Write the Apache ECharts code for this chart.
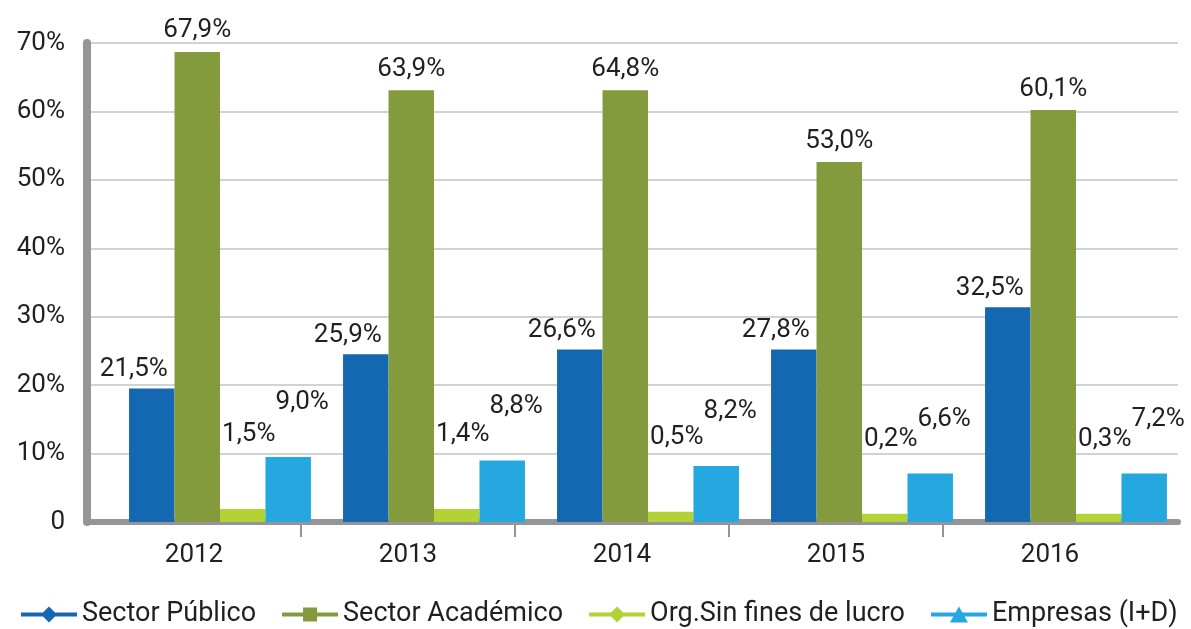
<!DOCTYPE html>
<html>
<head>
<meta charset="utf-8">
<script src="https://cdn.jsdelivr.net/npm/echarts@6/dist/echarts.min.js"></script>
<style>
  html, body { margin: 0; padding: 0; background: #fff; }
  #chart { width: 1191px; height: 629px; }
</style>
</head>
<body>
<div id="chart"></div>
<script>
const years = ['2012', '2013', '2014', '2015', '2016'];
const yTicks = [0, 10, 20, 30, 40, 50, 60, 70];
const seriesNames = ['Sector Público', 'Sector Académico', 'Org.Sin fines de lucro', 'Empresas (I+D)'];

// bar heights as drawn (%)
const sectorPublico = [19.5, 24.5, 25.2, 25.2, 31.4];
const sectorAcademico = [68.7, 63.1, 63.1, 52.6, 60.2];
const sinFines = [1.9, 1.9, 1.5, 1.2, 1.2];
const empresas = [9.5, 9.0, 8.2, 7.1, 7.1];

// values printed over the bars (%)
const publicoLabels = [21.5, 25.9, 26.6, 27.8, 32.5];
const academicoLabels = [67.9, 63.9, 64.8, 53.0, 60.1];
const sinFinesLabels = [1.5, 1.4, 0.5, 0.2, 0.3];
const empresasLabels = [9.0, 8.8, 8.2, 6.6, 7.2];

const FONT = 'Roboto';
const TEXT = '#231f20';
const AXIS_GREY = '#939598';

function pct (v) {
  return v.toFixed(1).replace('.', ',') + '%';
}

function makeSeries (name, data, labels, color, label) {
  return {
    name: name,
    type: 'bar',
    xAxisIndex: 2,
    yAxisIndex: 2,
    data: data,
    barGap: '0%',
    barCategoryGap: '15%',
    itemStyle: { color: color },
    label: Object.assign({
      show: true,
      position: 'top',
      fontFamily: FONT,
      fontSize: 26,
      color: TEXT,
      formatter: p => pct(labels[p.dataIndex])
    }, label)
  };
}

// ticks only between the years, none at the two ends
const betweenYears = years.slice(1).map((y, i) => i + 1);

const chart = echarts.init(document.getElementById('chart'));

const option = {
  animation: false,
  backgroundColor: '#fff',
  grid: [
    { left: 87, right: 13, top: 43, bottom: 107 },
    { left: 87, right: 34, top: 43, bottom: 107 },
    { left: 113, right: 8, top: 43, bottom: 107 }
  ],
  legend: {
    left: 16,
    top: 596,
    width: 1175,
    itemWidth: 56,
    itemHeight: 16,
    itemGap: 26,
    textStyle: { fontFamily: FONT, fontSize: 27, color: TEXT },
    data: [
      { name: seriesNames[0], icon: 'path://M0,6H56V10H0Z M28,0L36,8L28,16L20,8Z' },
      { name: seriesNames[1], icon: 'path://M0,6H56V10H0Z M21,1H35V15H21Z' },
      { name: seriesNames[2], icon: 'path://M0,6H56V10H0Z M28,0L36,8L28,16L20,8Z' },
      { name: seriesNames[3], icon: 'path://M0,6H56V10H0Z M28,0L37,16H19Z' }
    ]
  },
  xAxis: [
    {
      gridIndex: 0,
      type: 'category',
      data: years,
      axisLine: { show: true, lineStyle: { color: AXIS_GREY, width: 6 } },
      axisTick: { show: false },
      axisLabel: { show: false }
    },
    {
      gridIndex: 1,
      type: 'category',
      data: years,
      axisLine: { show: false },
      axisTick: { show: false },
      axisLabel: { fontFamily: FONT, fontSize: 26, color: TEXT, margin: 20 }
    },
    {
      gridIndex: 2,
      type: 'category',
      data: years,
      show: false
    },
    {
      gridIndex: 1,
      type: 'value',
      position: 'bottom',
      min: 0,
      max: years.length,
      interval: 1,
      axisLine: { show: false },
      axisLabel: { show: false },
      splitLine: { show: false },
      axisTick: {
        show: true,
        length: 15,
        customValues: betweenYears,
        lineStyle: { color: AXIS_GREY, width: 2 }
      }
    }
  ],
  yAxis: [
    {
      gridIndex: 0,
      type: 'value',
      min: yTicks[0],
      max: yTicks[yTicks.length - 1],
      interval: 10,
      axisLine: { show: true, lineStyle: { color: AXIS_GREY, width: 8 } },
      axisTick: { show: false },
      axisLabel: {
        fontFamily: FONT,
        fontSize: 26,
        color: TEXT,
        margin: 22,
        formatter: v => (v === 0 ? '0' : v + '%')
      },
      splitLine: { lineStyle: { color: '#d1d2d4', width: 2 } }
    },
    { gridIndex: 1, type: 'value', min: 0, max: 70, show: false },
    { gridIndex: 2, type: 'value', min: 0, max: 70, show: false }
  ],
  series: [
    makeSeries(seriesNames[0], sectorPublico, publicoLabels, '#1467b1', { distance: 6, offset: [-18, 0] }),
    makeSeries(seriesNames[1], sectorAcademico, academicoLabels, '#839b3d', { distance: 8 }),
    makeSeries(seriesNames[2], sinFines, sinFinesLabels, '#b2d235', { offset: [6, -56] }),
    makeSeries(seriesNames[3], empresas, empresasLabels, '#25a8e0', { offset: [14, -36] })
  ]
};

chart.setOption(option);
</script>
</body>
</html>
